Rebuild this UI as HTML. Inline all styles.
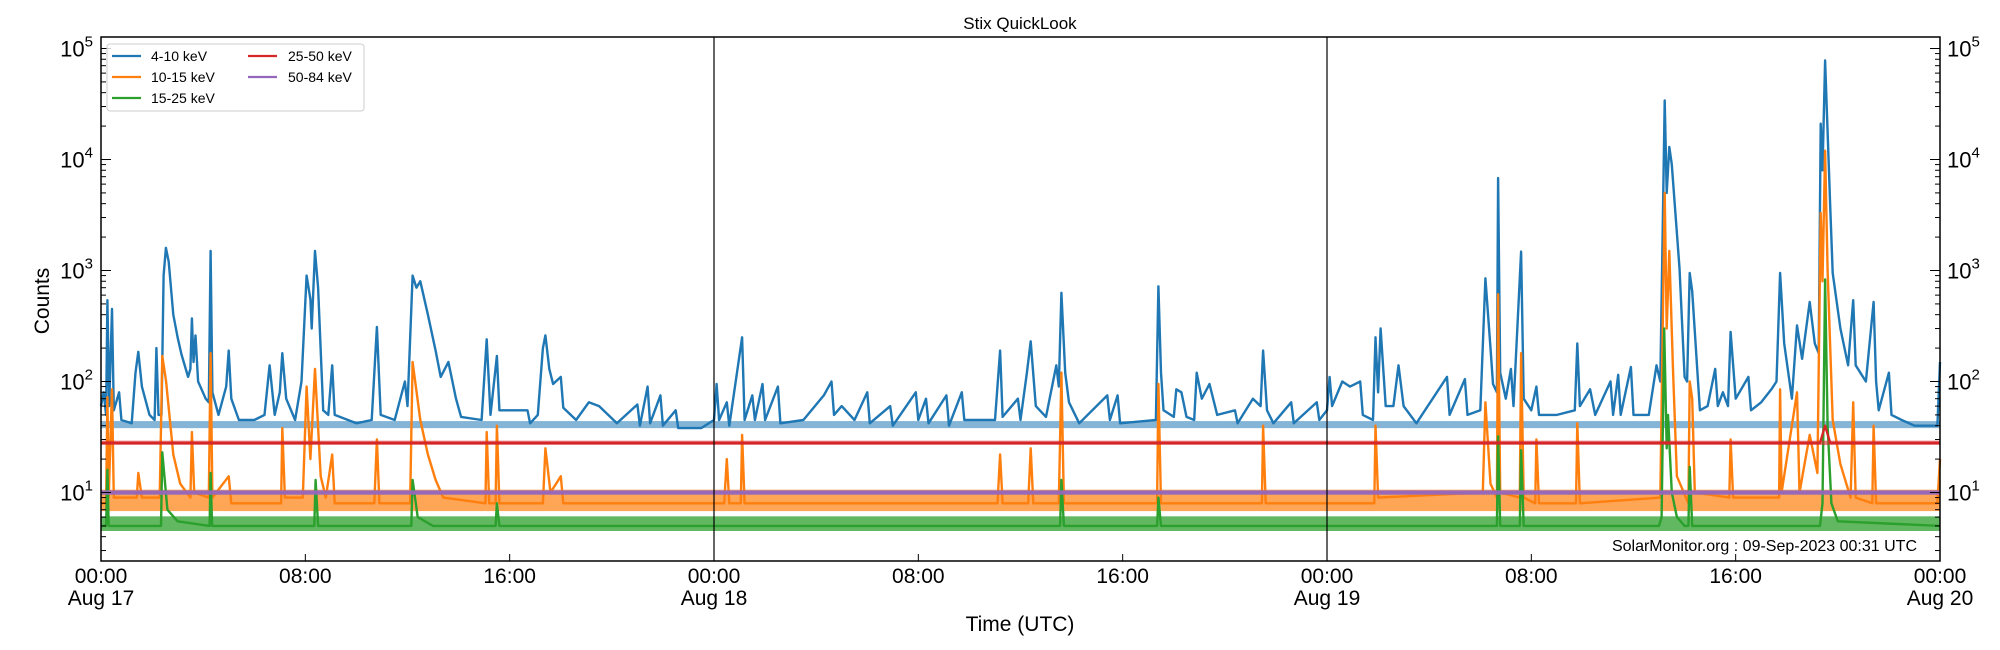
<!DOCTYPE html>
<html><head><meta charset="utf-8"><style>
html,body{margin:0;padding:0;background:#fff;}
svg{display:block;font-family:"Liberation Sans","DejaVu Sans",sans-serif;}
</style></head><body>
<svg id="chart" width="2000" height="650" viewBox="0 0 2000 650" xmlns="http://www.w3.org/2000/svg">
<rect width="2000" height="650" fill="#fff"/>
<text x="1020" y="29" font-size="17" text-anchor="middle">Stix QuickLook</text>
<g id="series"></g>
<g id="axes"></g>
<text x="1917" y="551" font-size="16" text-anchor="end">SolarMonitor.org : 09-Sep-2023 00:31 UTC</text>
<text x="1020" y="631" font-size="21" text-anchor="middle">Time (UTC)</text>
<text x="0" y="0" font-size="21" text-anchor="middle" transform="translate(49,301) rotate(-90)">Counts</text>
<g>
<rect x="107" y="44" width="257" height="67" rx="3" fill="#fff" fill-opacity="0.8" stroke="#ccc" stroke-width="1"/>
<g><line x1="112" y1="56" x2="141" y2="56" stroke="#1f77b4" stroke-width="2.2"/><text x="151" y="61" font-size="14">4-10 keV</text></g>
<g><line x1="112" y1="77" x2="141" y2="77" stroke="#ff7f0e" stroke-width="2.2"/><text x="151" y="82" font-size="14">10-15 keV</text></g>
<g><line x1="112" y1="98" x2="141" y2="98" stroke="#2ca02c" stroke-width="2.2"/><text x="151" y="103" font-size="14">15-25 keV</text></g>
<g><line x1="248" y1="56" x2="277" y2="56" stroke="#d62728" stroke-width="2.2"/><text x="288" y="61" font-size="14">25-50 keV</text></g>
<g><line x1="248" y1="77" x2="277" y2="77" stroke="#9467bd" stroke-width="2.2"/><text x="288" y="82" font-size="14">50-84 keV</text></g>
</g>
</svg>
<script>
// ---- data (hours since Aug 17 00:00 UTC, counts) ----
const blueT=[0,0.1,0.2,0.25,0.32,0.43,0.5,0.71,0.8,1.2,1.35,1.46,1.6,1.9,2.1,2.17,2.25,2.37,2.45,2.54,2.65,2.83,3.0,3.15,3.41,3.5,3.56,3.62,3.7,3.8,4.1,4.22,4.29,4.36,4.6,4.9,5.0,5.1,5.4,6.0,6.4,6.6,6.8,7.0,7.1,7.25,7.6,7.85,8.05,8.2,8.25,8.38,8.5,8.7,8.9,9.05,9.15,10.0,10.6,10.8,10.95,11.5,11.9,12.0,12.2,12.35,12.5,12.8,13.1,13.3,13.6,13.9,14.1,14.9,15.1,15.25,15.5,15.6,16.7,16.8,17.1,17.3,17.4,17.55,17.7,18.0,18.1,18.6,19.1,19.5,20.2,21.0,21.1,21.4,21.5,21.9,22.0,22.5,22.6,23.5,24.0,24.1,24.2,24.5,24.6,25.1,25.2,25.5,25.6,25.9,26.0,26.5,26.6,27.5,28.3,28.6,28.7,29.0,29.5,30.0,30.1,30.9,31.0,31.9,32.0,32.3,32.4,33.1,33.2,33.7,33.8,35.0,35.2,35.3,35.9,36.0,36.25,36.4,36.6,37.0,37.4,37.5,37.6,37.75,37.9,38.3,39.4,39.5,39.8,39.9,41.3,41.4,41.5,41.6,42.0,42.1,42.3,42.5,42.8,42.9,43.1,43.4,43.7,44.4,44.5,45.1,45.4,45.5,45.65,45.9,46.6,46.7,47.6,47.7,48.0,48.1,48.2,48.6,48.9,49.3,49.4,49.8,49.9,50.0,50.1,50.3,50.6,50.8,51.0,51.5,52.7,52.8,53.4,53.5,54.0,54.2,54.4,54.5,54.65,54.7,54.78,55.0,55.2,55.3,55.6,55.7,56.0,56.2,56.3,57.0,57.7,57.8,57.9,58.3,58.5,59.1,59.2,59.4,59.5,59.9,60.0,60.6,60.9,61.05,61.15,61.22,61.3,61.4,61.5,61.8,62.0,62.1,62.2,62.3,62.6,62.9,63.2,63.3,63.5,63.7,63.8,64.0,64.5,64.6,65.0,65.4,65.6,65.74,65.9,66.2,66.4,66.6,66.9,67.1,67.25,67.33,67.4,67.5,67.7,67.8,68.1,68.4,68.6,68.7,69.1,69.4,69.5,69.6,70.0,70.1,70.5,71.0,71.9,72.0];
const blueV=[60,80,50,540,60,450,55,80,45,42,120,185,90,50,45,200,50,50,900,1600,1200,400,250,175,110,130,370,150,260,100,70,65,1500,80,50,90,190,70,45,45,50,140,50,80,180,70,45,100,900,550,300,1500,700,55,50,140,50,42,45,310,50,45,100,60,900,700,800,400,190,110,150,70,48,45,240,50,170,55,55,42,50,200,260,130,95,110,58,45,65,60,42,62,40,90,42,75,40,55,38,38,45,95,45,65,40,250,45,75,45,95,45,90,42,45,75,100,50,60,45,80,42,60,40,80,45,70,42,75,40,80,45,45,190,48,70,45,120,230,60,48,140,90,630,120,65,42,75,45,75,42,45,720,120,55,48,85,80,48,45,120,70,95,50,55,42,70,60,190,55,42,65,42,65,45,55,110,60,100,90,100,50,45,250,80,300,60,60,140,60,42,110,50,105,50,55,850,200,95,80,6800,120,70,130,60,1480,70,55,90,50,50,55,220,60,85,50,100,50,115,50,135,50,50,140,100,3000,34000,5000,13000,9000,1050,110,100,950,650,55,60,130,60,80,60,280,70,110,55,65,85,100,950,220,70,320,160,520,220,180,21000,8000,78000,3800,950,300,140,540,140,100,520,100,55,120,50,45,40,40,150];
const orangeT=[0,0.2,0.25,0.3,0.43,0.5,1.4,1.46,1.6,2.3,2.4,2.55,2.83,3.1,3.5,3.56,3.65,4.22,4.29,4.36,5.0,5.1,7.05,7.1,7.2,7.9,8.05,8.2,8.38,8.6,8.8,9.05,9.15,10.7,10.8,10.9,12.1,12.2,12.5,12.8,13.1,13.4,15.05,15.1,15.2,15.45,15.5,15.6,17.3,17.4,17.6,18.0,18.1,24.4,24.5,24.6,25.05,25.1,25.2,35.1,35.2,35.3,36.3,36.4,36.5,37.5,37.6,37.7,41.35,41.4,41.5,45.45,45.5,45.6,49.85,49.9,50.0,54.1,54.2,54.4,54.65,54.7,54.78,55.55,55.6,55.7,56.15,56.2,56.3,57.75,57.8,57.9,61.05,61.15,61.22,61.3,61.4,61.55,61.7,62.15,62.2,62.3,62.4,63.75,63.8,63.9,65.7,65.74,65.8,66.4,66.5,66.9,67.2,67.33,67.4,67.5,67.6,67.8,68.1,68.5,68.6,68.7,69.35,69.4,69.5,71.9,72];
const orangeV=[8,8,72,9,85,9,9,15,9,9,170,100,22,12,9,35,10,9,180,9,14,8,8,38,9,9,90,20,130,14,9,22,8,8,30,8,8,150,45,22,13,9,8,35,8,8,40,8,8,25,10,14,8,8,20,8,8,33,8,8,22,8,8,25,8,8,120,8,8,95,8,8,40,8,8,40,9,10,65,12,9,610,10,9,180,9,8,30,8,8,42,8,9,400,5000,300,1500,120,14,8,100,70,10,9,30,9,9,85,10,80,10,33,15,3300,800,12000,1000,45,18,9,65,9,8,40,8,8,20];
const greenT=[0,0.2,0.25,0.3,2.35,2.4,2.6,3.0,4.25,4.29,4.35,8.35,8.4,8.5,12.15,12.2,12.4,13.0,15.45,15.5,15.6,37.55,37.6,37.7,41.35,41.4,41.5,54.65,54.7,54.78,55.55,55.6,55.7,61.0,61.1,61.2,61.3,61.35,61.5,61.7,62.0,62.15,62.2,62.3,67.3,67.4,67.5,67.6,67.75,68.0,72];
const greenV=[5,5,16,5,5,23,7,5.5,5,15,5,5,13,5,5,13,6,5,5,8,5,5,13,5,5,9,5,5,32,5,5,24,5,5,6,300,25,50,10,6,5,5,17,5,5,8,830,40,8,5.5,5];
const redT=[0,67.3,67.5,67.7,72];
const redV=[28,28,40,28,28];
const purpleT=[0,72];
const purpleV=[10,10];
// baseline noise envelopes [low, high] for each channel
const blueBand=[38,44];
const orangeBand=[6.8,10.6];
const greenBand=[4.5,6.1];
const redBand=[26.8,29.3];
const purpleBand=[9.5,10.5];
const xTickHours=[0,8,16,24,32,40,48,56,64,72];
const xTickLabels=["00:00","08:00","16:00","00:00","08:00","16:00","00:00","08:00","16:00","00:00"];
const xTickDates=["Aug 17","","","Aug 18","","","Aug 19","","","Aug 20"];
const yDecades=[1,2,3,4,5];

// ---- axis functions ----
const L=101,R=1940,T=37,B=561;
const X=h=>L+h*(R-L)/72;
const Y=v=>492.5-(Math.log10(v)-1)*111;
const NS="http://www.w3.org/2000/svg";
function mk(tag,attrs,parent){const e=document.createElementNS(NS,tag);for(const k in attrs)e.setAttribute(k,attrs[k]);parent.appendChild(e);return e;}
const series=document.getElementById('series'),axes=document.getElementById('axes');

function drawSeries(name,ts,vs,band,color,op){
  if(band){
    const r=mk('rect',{x:L,y:Y(band[1]),width:R-L,height:Y(band[0])-Y(band[1]),fill:color,opacity:op},series);
    
    
  }
  const p=mk('polyline',{points:ts.map((t,i)=>X(t).toFixed(1)+','+Y(vs[i]).toFixed(1)).join(' '),fill:'none',stroke:color,'stroke-width':2.4,'stroke-linejoin':'round'},series);
  
  
}
drawSeries('series-4-10kev',blueT,blueV,blueBand,'#1f77b4',0.55);
drawSeries('series-10-15kev',orangeT,orangeV,orangeBand,'#ff7f0e',0.7);
drawSeries('series-15-25kev',greenT,greenV,greenBand,'#2ca02c',0.75);
drawSeries('series-25-50kev',redT,redV,redBand,'#d62728',0.6);
drawSeries('series-50-84kev',purpleT,purpleV,purpleBand,'#9467bd',0.7);

[24,48].forEach(h=>{
  const l=mk('line',{x1:X(h),x2:X(h),y1:T,y2:B,stroke:'#000','stroke-width':1.2},axes);
  
  
});
const fr=mk('rect',{x:L,y:T,width:R-L,height:B-T,fill:'none',stroke:'#000','stroke-width':1.5},axes);



for(let d=0;d<=5;d++){
  for(let m=1;m<=9;m++){
    const v=m*Math.pow(10,d);const y=Y(v);
    if(y<T||y>B)continue;
    const len=m===1?10:5;
    mk('line',{x1:L,x2:L+len,y1:y,y2:y,stroke:'#000','stroke-width':1},axes);
    mk('line',{x1:R,x2:R-len,y1:y,y2:y,stroke:'#000','stroke-width':1},axes);
  }
}
yDecades.forEach(d=>{
  const y=Y(Math.pow(10,d));
  const t1=mk('text',{x:L-8,y:y+8,'font-size':22,'text-anchor':'end'},axes);
  
  
  t1.innerHTML='10<tspan dy="-10" font-size="15">'+d+'</tspan>';
  const t2=mk('text',{x:R+7,y:y+8,'font-size':22,'text-anchor':'start'},axes);
  
  
  t2.innerHTML='10<tspan dy="-10" font-size="15">'+d+'</tspan>';
});
xTickHours.forEach((h,i)=>{
  const x=X(h);
  mk('line',{x1:x,x2:x,y1:B,y2:B-7,stroke:'#000','stroke-width':1},axes);
  const t=mk('text',{x:x,y:583,'font-size':21,'text-anchor':'middle'},axes);
  
  
  t.textContent=xTickLabels[i];
  if(xTickDates[i]){
    const d=mk('text',{x:x,y:605,'font-size':21,'text-anchor':'middle'},axes);
    
    
    d.textContent=xTickDates[i];
  }
});
</script>
</body></html>
